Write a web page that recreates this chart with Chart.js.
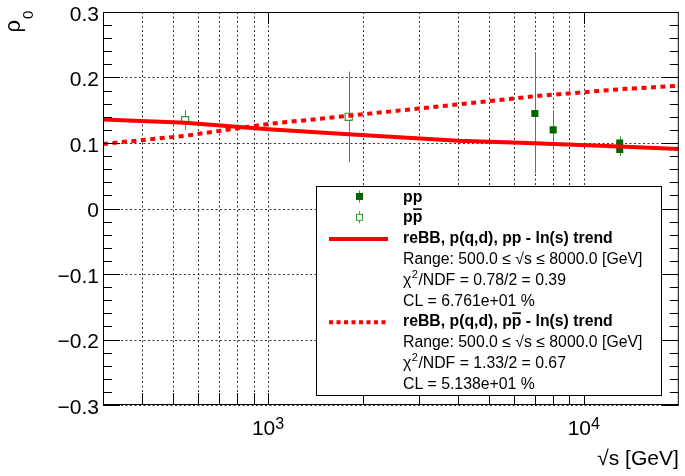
<!DOCTYPE html>
<html>
<head>
<meta charset="utf-8">
<script src="https://cdn.jsdelivr.net/npm/chart.js@4.4.0/dist/chart.umd.min.js"></script>
<style>
  html, body { margin: 0; padding: 0; background: #fff; }
</style>
</head>
<body>
<canvas id="rhoChart" width="685" height="476"></canvas>
<script>
// --- DATA ---
const ppEnergy = [7000, 8000, 13000, 13000];
const ppRho = [0.145, 0.12, 0.10, 0.09];
const ppErr = [0.091, 0.03, 0.01, 0.01];

const pbarpEnergy = [546, 1800];
const pbarpRho = [0.135, 0.140];
const pbarpErr = [0.015, 0.069];

// trend curves
const trendEnergy = [300, 546, 1000, 1800, 4000, 7000, 13000, 20000];
const ppTrend = [0.136, 0.131, 0.121, 0.1135, 0.1035, 0.0995, 0.0945, 0.091];
const pbarpTrend = [0.0985, 0.111, 0.129, 0.1415, 0.159, 0.1715, 0.182, 0.1875];

const xTicks = [400, 500, 600, 700, 800, 900, 1000, 2000, 3000, 4000, 5000, 6000, 7000, 8000, 9000, 10000];
const xDecades = [1000, 10000];
const xDecadeExp = ['3', '4'];
const yTicks = [-0.3, -0.2, -0.1, 0, 0.1, 0.2, 0.3];
const yTickLabels = ['\u22120.3', '\u22120.2', '\u22120.1', '0', '0.1', '0.2', '0.3'];

const legendRows = [
    { text: 'pp', bold: true, symbol: 'filled' },
    { text: 'pp', bold: true, symbol: 'open', bar: true },
    { text: 'reBB, p(q,d), pp - ln(s) trend', bold: true, symbol: 'solid' },
    { text: 'Range: 500.0 \u2264 \u221As \u2264 8000.0 [GeV]' },
    { text: '/NDF = 0.78/2 = 0.39', chi: true },
    { text: 'CL = 6.761e+01 %' },
    { text: 'reBB, p(q,d), pp - ln(s) trend', bold: true, symbol: 'dotted', bar: true },
    { text: 'Range: 500.0 \u2264 \u221As \u2264 8000.0 [GeV]' },
    { text: '/NDF = 1.33/2 = 0.67', chi: true },
    { text: 'CL = 5.138e+01 %' }
];

// --- STYLE ---
const FONT = '"Liberation Sans", Arial, sans-serif';
const RED = '#ff0000';
const DARK_GREEN = '#006600';
const GREEN = '#2f9a2f';

const toPoints = (xs, ys) => xs.map((x, i) => ({ x: x, y: ys[i] }));

// ROOT-like decorations: dotted grid, error bars, inner ticks, labels, legend
const rootStyle = {
    id: 'rootStyle',
    beforeDatasetsDraw(chart) {
        const ctx = chart.ctx;
        const xs = chart.scales.x, ys = chart.scales.y;
        const a = chart.chartArea;
        ctx.save();

        // dotted grid
        ctx.strokeStyle = '#333';
        ctx.lineWidth = 1;
        ctx.setLineDash([2, 2.5]);
        ctx.beginPath();
        xTicks.forEach(v => {
            const px = Math.round(xs.getPixelForValue(v)) + 0.5;
            ctx.moveTo(px, a.top);
            ctx.lineTo(px, a.bottom);
        });
        yTicks.forEach(v => {
            const py = Math.round(ys.getPixelForValue(v)) + 0.5;
            ctx.moveTo(a.left, py);
            ctx.lineTo(a.right, py);
        });
        ctx.stroke();
        ctx.setLineDash([]);

        // error bars
        ctx.strokeStyle = GREEN;
        [[ppEnergy, ppRho, ppErr], [pbarpEnergy, pbarpRho, pbarpErr]].forEach(([e, r, err]) => {
            e.forEach((x, i) => {
                const px = Math.round(xs.getPixelForValue(x)) + 0.5;
                ctx.beginPath();
                ctx.moveTo(px, ys.getPixelForValue(r[i] + err[i]));
                ctx.lineTo(px, ys.getPixelForValue(r[i] - err[i]));
                ctx.stroke();
            });
        });
        ctx.restore();
    },
    afterDraw(chart) {
        const ctx = chart.ctx;
        const xs = chart.scales.x, ys = chart.scales.y;
        const a = chart.chartArea;
        ctx.save();

        // frame
        ctx.strokeStyle = '#000';
        ctx.lineWidth = 1;
        ctx.strokeRect(a.left + 0.5, a.top + 0.5, a.right - a.left - 1, a.bottom - a.top - 1);

        // y ticks (left + right), 5 subdivisions
        ctx.beginPath();
        for (let i = 0; i < yTicks.length; i++) {
            const py = Math.round(ys.getPixelForValue(yTicks[i])) + 0.5;
            ctx.moveTo(a.left, py); ctx.lineTo(a.left + 17, py);
            ctx.moveTo(a.right, py); ctx.lineTo(a.right - 17, py);
            if (i < yTicks.length - 1) {
                const step = (yTicks[i + 1] - yTicks[i]) / 5;
                for (let k = 1; k < 5; k++) {
                    const my = Math.round(ys.getPixelForValue(yTicks[i] + k * step)) + 0.5;
                    ctx.moveTo(a.left, my); ctx.lineTo(a.left + 9, my);
                    ctx.moveTo(a.right, my); ctx.lineTo(a.right - 9, my);
                }
            }
        }
        // x ticks
        xTicks.forEach(v => {
            const px = Math.round(xs.getPixelForValue(v)) + 0.5;
            ctx.moveTo(px, a.bottom); ctx.lineTo(px, a.bottom - 12);
            if (xDecades.includes(v)) {
                ctx.moveTo(px, a.top); ctx.lineTo(px, a.top + 12);
            }
        });
        ctx.stroke();

        // y tick labels
        ctx.fillStyle = '#000';
        ctx.font = '21px ' + FONT;
        ctx.textAlign = 'right';
        ctx.textBaseline = 'alphabetic';
        yTicks.forEach((v, i) => {
            ctx.fillText(yTickLabels[i], a.left - 4, ys.getPixelForValue(v) + 8.5);
        });

        // x tick labels 10^n
        xDecades.forEach((v, i) => {
            const px = xs.getPixelForValue(v);
            ctx.font = '21px ' + FONT;
            const w1 = ctx.measureText('10').width;
            ctx.font = '16px ' + FONT;
            const w2 = ctx.measureText(xDecadeExp[i]).width;
            const x0 = px - (w1 + w2) / 2;
            ctx.textAlign = 'left';
            ctx.font = '21px ' + FONT;
            ctx.fillText('10', x0, 435);
            ctx.font = '16px ' + FONT;
            ctx.fillText(xDecadeExp[i], x0 + w1, 429);
        });

        // axis titles
        ctx.font = '21px ' + FONT;
        ctx.textAlign = 'right';
        ctx.fillText('\u221As [GeV]', a.right, 465);

        ctx.save();
        ctx.translate(19.5, 32.5);
        ctx.rotate(-Math.PI / 2);
        ctx.textAlign = 'left';
        ctx.font = '22px ' + FONT;
        ctx.fillText('\u03C1', 0, 0);
        const rw = ctx.measureText('\u03C1').width;
        ctx.font = '15px ' + FONT;
        ctx.fillText('0', rw + 1, 13.5);
        ctx.restore();

        drawLegend(ctx);
        ctx.restore();
    }
};

function drawLegend(ctx) {
    const box = { x: 316.5, y: 186.5, w: 345, h: 209 };
    ctx.fillStyle = '#fff';
    ctx.fillRect(box.x, box.y, box.w, box.h);
    ctx.strokeStyle = '#000';
    ctx.lineWidth = 1;
    ctx.strokeRect(box.x, box.y, box.w, box.h);

    const textX = 403;
    const symX = 359.5;
    legendRows.forEach((row, i) => {
        const base = 201.5 + 20.8 * i;
        const mid = base - 5;
        ctx.font = (row.bold ? 'bold ' : '') + '15.8px ' + FONT;
        ctx.fillStyle = '#000';
        ctx.textAlign = 'left';
        let x = textX;
        if (row.chi) {
            ctx.fillText('\u03C7', x, base);
            x += ctx.measureText('\u03C7').width;
            ctx.font = '11px ' + FONT;
            ctx.fillText('2', x + 0.5, base - 7);
            x += ctx.measureText('2').width + 1;
            ctx.font = '15.8px ' + FONT;
        }
        ctx.fillText(row.text, x, base);

        if (row.bar) {
            // overline on the anti-proton "p"
            const idx = row.text.indexOf('pp') + 1;
            const pre = ctx.measureText(row.text.slice(0, idx)).width;
            const pw = ctx.measureText('p').width;
            ctx.fillRect(x + pre + 0.5, base - 14, pw - 1, 1.6);
        }

        if (row.symbol === 'filled' || row.symbol === 'open') {
            ctx.strokeStyle = GREEN;
            ctx.beginPath();
            ctx.moveTo(symX, mid - 6);
            ctx.lineTo(symX, mid + 6);
            ctx.stroke();
            if (row.symbol === 'filled') {
                ctx.fillStyle = DARK_GREEN;
                ctx.fillRect(symX - 3.5, mid - 3.5, 7, 7);
            } else {
                ctx.fillStyle = '#fff';
                ctx.fillRect(symX - 3.5, mid - 3.5, 7, 7);
                ctx.strokeStyle = GREEN;
                ctx.strokeRect(symX - 3, mid - 3, 6, 6);
            }
        } else if (row.symbol === 'solid' || row.symbol === 'dotted') {
            ctx.strokeStyle = RED;
            ctx.lineWidth = 4;
            ctx.setLineDash(row.symbol === 'dotted' ? [4, 3.5] : []);
            ctx.beginPath();
            ctx.moveTo(329, mid + 1);
            ctx.lineTo(388, mid + 1);
            ctx.stroke();
            ctx.setLineDash([]);
            ctx.lineWidth = 1;
        }
    });
}

const ctx = document.getElementById('rhoChart').getContext('2d');
new Chart(ctx, {
    type: 'scatter',
    data: {
        datasets: [
            {
                label: 'reBB, p(q,d), pp - ln(s) trend',
                data: toPoints(trendEnergy, ppTrend),
                showLine: true,
                borderColor: RED,
                borderWidth: 4,
                pointRadius: 0,
                order: 0
            },
            {
                label: 'reBB, p(q,d), ppbar - ln(s) trend',
                data: toPoints(trendEnergy, pbarpTrend),
                showLine: true,
                borderColor: RED,
                borderWidth: 4,
                borderDash: [5, 4.5],
                pointRadius: 0,
                order: 0
            },
            {
                label: 'pp',
                data: toPoints(ppEnergy, ppRho),
                pointStyle: 'rect',
                pointRadius: 5,
                backgroundColor: DARK_GREEN,
                borderColor: DARK_GREEN,
                borderWidth: 0,
                order: 1
            },
            {
                label: 'ppbar',
                data: toPoints(pbarpEnergy, pbarpRho),
                pointStyle: 'rect',
                pointRadius: 5,
                backgroundColor: '#fff',
                borderColor: GREEN,
                borderWidth: 1.2,
                order: 1
            }
        ]
    },
    options: {
        responsive: false,
        animation: false,
        devicePixelRatio: 1,
        layout: { padding: { left: 103, right: 1, top: 12, bottom: 71 } },
        plugins: {
            legend: { display: false },
            tooltip: { enabled: false }
        },
        scales: {
            x: {
                type: 'logarithmic',
                min: 300,
                max: 20000,
                ticks: { display: false },
                grid: { display: false, drawTicks: false },
                border: { display: false }
            },
            y: {
                type: 'linear',
                min: -0.3,
                max: 0.3,
                ticks: { display: false },
                grid: { display: false, drawTicks: false },
                border: { display: false }
            }
        }
    },
    plugins: [rootStyle]
});
</script>
</body>
</html>
